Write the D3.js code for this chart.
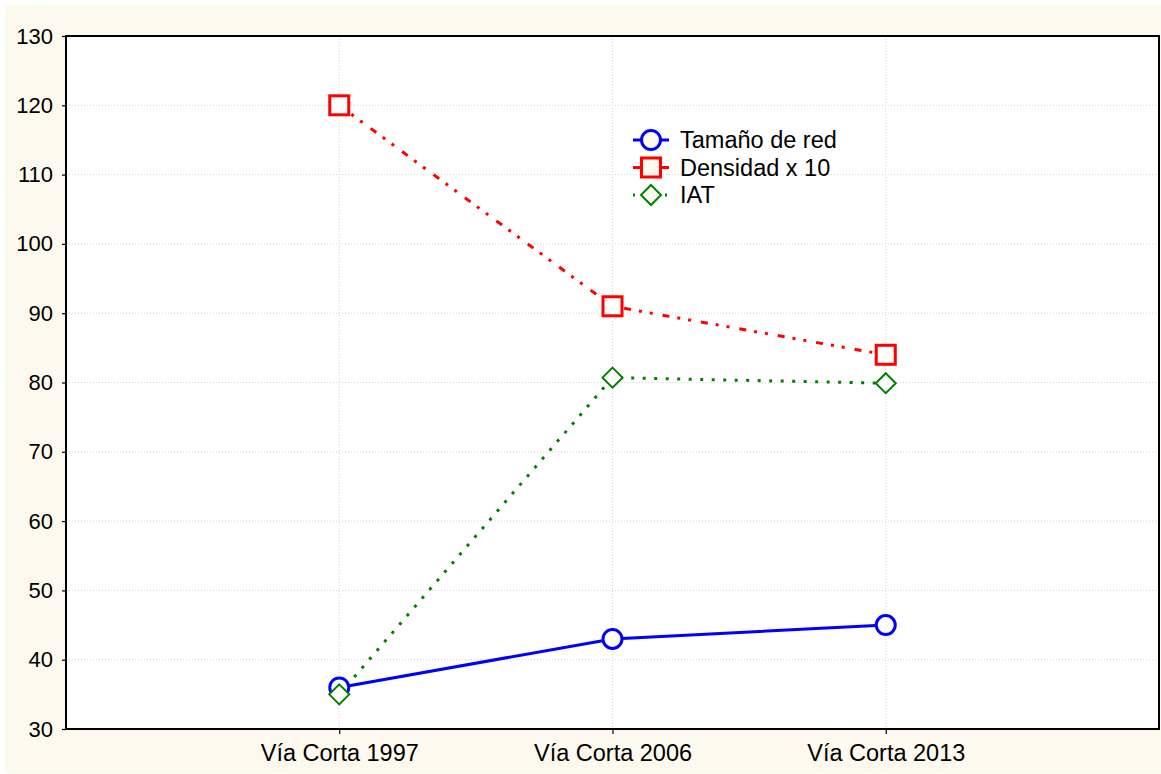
<!DOCTYPE html>
<html><head><meta charset="utf-8">
<script src="https://cdn.jsdelivr.net/npm/d3@7"></script>
<style>body{margin:0;background:#fff}svg{display:block}</style>
</head><body>
<svg id="c" width="1161" height="774"></svg>
<script>
const categories = ["Vía Corta 1997", "Vía Corta 2006", "Vía Corta 2013"];
const tamano = [36, 43, 45];
const densidad = [120, 91, 84];
const iat = [35, 80.7, 79.9];
const yTicks = [30, 40, 50, 60, 70, 80, 90, 100, 110, 120, 130];
const seriesNames = ["Tamaño de red", "Densidad x 10", "IAT"];

const svg = d3.select("#c");
const W = 1161, H = 774;
const m = {l: 66, r: 2, t: 36, b: 45};
const font = "'Liberation Sans', Arial, sans-serif";

svg.append("rect").attr("x", 5).attr("y", 5).attr("width", W - 5).attr("height", H - 6).attr("fill", "#fdf9ee");

const x = d3.scalePoint().domain(categories).range([m.l, W - m.r]).padding(1);
const y = d3.scaleLinear().domain([30, 130]).range([H - m.b, m.t]);

svg.append("rect").attr("x", m.l).attr("y", m.t).attr("width", W - m.r - m.l).attr("height", H - m.b - m.t).attr("fill", "#fff");

// grid
const g = svg.append("g");
g.selectAll("line.h").data(yTicks.slice(1, -1)).join("line")
  .attr("x1", m.l).attr("x2", W - m.r).attr("y1", d => y(d)).attr("y2", d => y(d))
  .attr("stroke", "#d4d4d4").attr("stroke-width", 1).attr("stroke-dasharray", "1,2");
g.selectAll("line.v").data(categories).join("line")
  .attr("x1", d => x(d)).attr("x2", d => x(d)).attr("y1", m.t).attr("y2", H - m.b)
  .attr("stroke", "#d4d4d4").attr("stroke-width", 1).attr("stroke-dasharray", "1,2");

// axes
const yAxis = svg.append("g").attr("transform", `translate(${m.l},0)`)
  .call(d3.axisLeft(y).tickValues(yTicks).tickSize(4).tickPadding(9).tickSizeOuter(0));
const xAxis = svg.append("g").attr("transform", `translate(0,${H - m.b})`)
  .call(d3.axisBottom(x).tickSize(5).tickPadding(10).tickSizeOuter(0));
[yAxis, xAxis].forEach(a => {
  a.select(".domain").remove();
  a.selectAll("line").attr("stroke", "#000").attr("stroke-width", 1.2);
  a.selectAll("text").attr("font-family", font).attr("fill", "#000");
});
yAxis.selectAll("text").attr("font-size", 22);
xAxis.selectAll("text").attr("font-size", 23.5);

// frame
svg.append("rect").attr("x", m.l).attr("y", m.t).attr("width", W - m.r - m.l).attr("height", H - m.b - m.t)
  .attr("fill", "none").attr("stroke", "#000").attr("stroke-width", 2);

const series = [
  {name: seriesNames[0], vals: tamano, color: "#0000ff", dash: null, w: 3, shape: "circle"},
  {name: seriesNames[1], vals: densidad, color: "#ff0000", dash: "7,8,3,8,3,10", w: 3, shape: "square"},
  {name: seriesNames[2], vals: iat, color: "#008000", dash: "3,8.5", w: 3, shape: "diamond"}
];

function marker(sel, shape, color, fill) {
  if (shape === "circle") sel.append("circle").attr("r", 9.5).attr("fill", fill).attr("stroke", color).attr("stroke-width", 3);
  else if (shape === "square") sel.append("rect").attr("x", -9.5).attr("y", -9.5).attr("width", 19).attr("height", 19).attr("fill", fill).attr("stroke", color).attr("stroke-width", 3);
  else sel.append("path").attr("d", "M0,-10L10,0L0,10L-10,0Z").attr("fill", fill).attr("stroke", color).attr("stroke-width", 2);
}

const line = d3.line().x((d, i) => x(categories[i])).y(d => y(d));
series.forEach(s => {
  svg.append("path").attr("d", line(s.vals)).attr("fill", "none").attr("stroke", s.color)
    .attr("stroke-width", s.w).attr("stroke-dasharray", s.dash);
});
series.forEach(s => {
  s.vals.forEach((v, i) => {
    const gg = svg.append("g").attr("transform", `translate(${x(categories[i])},${y(v)})`);
    marker(gg, s.shape, s.color, "#fff");
  });
});

// legend
const lg = svg.append("g").attr("transform", "translate(633,140)");
series.forEach((s, i) => {
  const row = lg.append("g").attr("transform", `translate(0,${i * 27.5})`);
  row.append("line").attr("x1", 0).attr("x2", 36).attr("y1", 0).attr("y2", 0)
    .attr("stroke", s.color).attr("stroke-width", s.w).attr("stroke-dasharray", s.shape === "diamond" ? "2,14" : null);
  const mk = row.append("g").attr("transform", "translate(18,0)");
  marker(mk, s.shape, s.color, "#fdf9ee");
  row.append("text").attr("x", 47).attr("y", 0).attr("dy", "0.36em").attr("font-family", font)
    .attr("font-size", 23.5).text(s.name);
});
</script>
</body></html>
